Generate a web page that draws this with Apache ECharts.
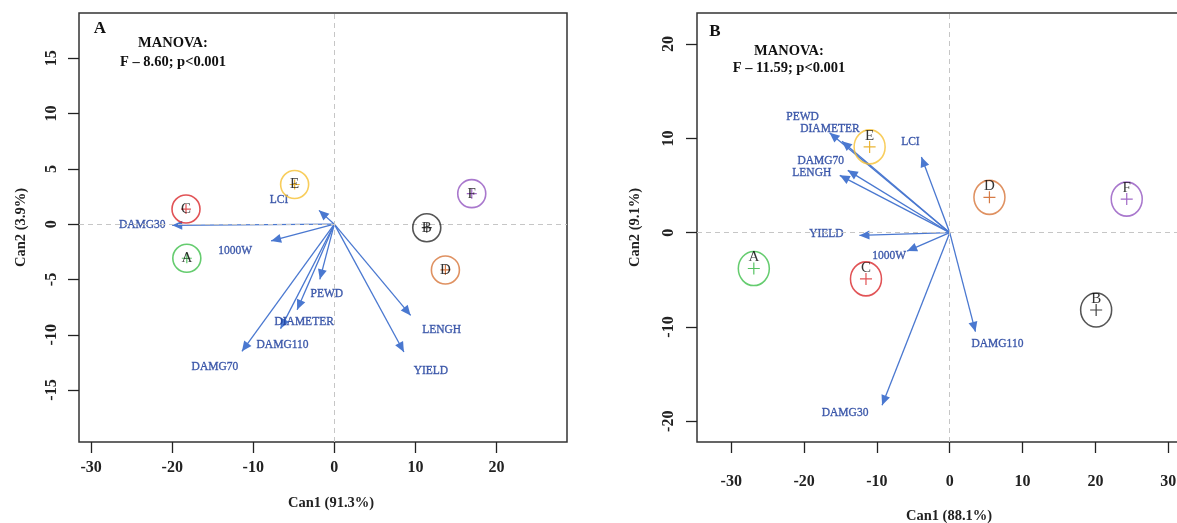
<!DOCTYPE html>
<html>
<head>
<meta charset="utf-8">
<script src="https://cdn.jsdelivr.net/npm/echarts@6/dist/echarts.min.js"></script>
<style>
  html, body { margin: 0; padding: 0; background: #fff; }
  #main { width: 1177px; height: 523px; }
</style>
</head>
<body>
<div id="main"></div>
<script>
// group centroids (Can1, Can2)
var groups = ['A', 'B', 'C', 'D', 'E', 'F'];
var centAX = [-18.2, 11.4, -18.3, 13.7, -4.9, 16.95];
var centAY = [-3.08, -0.32, 1.37, -4.14, 3.59, 2.76];
var centBX = [-26.9, 20.1, -11.5, 5.45, -11.0, 24.3];
var centBY = [-3.8, -8.2, -4.9, 3.75, 9.1, 3.56];

// variable structure coefficients (arrow ends)
var varsA = ['DAMG30', 'LCI', '1000W', 'PEWD', 'DIAMETER', 'DAMG110', 'DAMG70', 'LENGH', 'YIELD'];
var loadAX = [-20.0, -1.9, -7.8, -1.79, -4.59, -6.64, -11.4, 9.41, 8.58];
var loadAY = [-0.1, 1.25, -1.52, -4.99, -7.73, -9.45, -11.5, -8.25, -11.56];
var varsB = ['PEWD', 'DIAMETER', 'DAMG70', 'LENGH', 'LCI', 'YIELD', '1000W', 'DAMG110', 'DAMG30'];
var loadBX = [-16.5, -14.8, -14.0, -15.1, -3.89, -12.4, -5.85, 3.53, -9.29];
var loadBY = [10.6, 9.71, 6.61, 6.08, 8.02, -0.29, -1.95, -10.5, -18.3];

// tick labels
var ticksAX = [-30, -20, -10, 0, 10, 20];
var ticksAY = [-15, -10, -5, 0, 5, 10, 15];
var ticksBX = [-30, -20, -10, 0, 10, 20, 30];
var ticksBY = [-20, -10, 0, 10, 20];

// label placement next to arrow tips (px)
var labOffA = [[-30, 0], [-40, -10], [-36, 10], [7, 15], [7, 12], [2, 16], [-27, 16], [31, 15], [27, 19]];
var labOffB = [[-27, -16], [-12, -12], [-27, -9], [-28, -2], [-11, -15], [-33, -1], [-18, 5], [22, 12], [-37, 8]];

var circColors = ['#3fbf4b', '#2a2a2a', '#d9282c', '#d7763a', '#f6c033', '#9356c0'];
var plusColors = ['#2db43c', '#111111', '#d9282c', '#cc5a18', '#e5a100', '#8a44b8'];
var arrowC = '#4a78d0';
var labC = '#1d3d9c';
var serif = 'Liberation Serif';

// arrow head with its tip at the symbol centre
var arrowHead = 'path://M0,10L4.5,20L-4.5,20ZM-10,0M10,0';
var plusPath = 'path://M0,6L12,6M6,0L6,12';
var ellipsePath = 'path://M0,-1A1,1 0 1,1 0,1A1,1 0 1,1 0,-1Z';

var myChart = echarts.init(document.getElementById('main'));

function xAxis(idx, min, max, ticks, name, margin, gap) {
  return {
    gridIndex: idx, type: 'value', min: min, max: max,
    axisLine: {show: false, onZero: false},
    axisTick: {show: true, length: 11, customValues: ticks, lineStyle: {color: '#222', width: 1.3}},
    axisLabel: {customValues: ticks, margin: margin, color: '#222', fontFamily: serif, fontWeight: 'bold', fontSize: 16},
    splitLine: {show: false},
    name: name, nameLocation: 'middle', nameGap: gap,
    nameTextStyle: {color: '#222', fontFamily: serif, fontWeight: 'bold', fontSize: 14.5, padding: [0, 0, 0, 16]}
  };
}

function yAxis(idx, min, max, ticks, name, margin, gap) {
  return {
    gridIndex: idx, type: 'value', min: min, max: max,
    axisLine: {show: false, onZero: false},
    axisTick: {show: true, length: 11, customValues: ticks, lineStyle: {color: '#222', width: 1.3}},
    axisLabel: {customValues: ticks, rotate: 90, margin: margin, color: '#222', fontFamily: serif, fontWeight: 'bold', fontSize: 16},
    splitLine: {show: false},
    name: name, nameLocation: 'middle', nameGap: gap,
    nameTextStyle: {color: '#222', fontFamily: serif, fontWeight: 'bold', fontSize: 14.5}
  };
}

function panelSeries(idx, cx, cy, vars, lx, ly, offs, circle, circSize, plusSize, letterOff) {
  return [
    {
      type: 'scatter', xAxisIndex: idx, yAxisIndex: idx, z: 1, silent: true,
      symbol: plusPath, symbolSize: plusSize,
      data: groups.map(function (g, i) {
        return {value: [cx[i], cy[i]], itemStyle: {borderColor: plusColors[i]}};
      }),
      itemStyle: {color: 'rgba(0,0,0,0)', borderWidth: 1.2},
      markLine: {
        silent: true, symbol: ['none', 'none'], animation: false,
        label: {show: false},
        lineStyle: {color: '#c6c6c6', type: [5, 4], width: 1},
        data: [{xAxis: 0}, {yAxis: 0}]
      }
    },
    {
      type: 'lines', coordinateSystem: 'cartesian2d', xAxisIndex: idx, yAxisIndex: idx, z: 3,
      symbol: ['none', arrowHead], symbolSize: 20,
      lineStyle: {color: arrowC, width: 1.3, opacity: 1},
      data: vars.map(function (v, i) {
        return {coords: [[0, 0], [lx[i], ly[i]]]};
      })
    },
    {
      type: 'scatter', xAxisIndex: idx, yAxisIndex: idx, z: 4, silent: true,
      symbolSize: 1, itemStyle: {color: 'rgba(0,0,0,0)'},
      label: {
        show: true, position: 'inside', formatter: '{b}', color: labC, fontFamily: serif, fontSize: 11.5,
        textBorderColor: labC, textBorderWidth: 0.35
      },
      data: vars.map(function (v, i) {
        return {name: v, value: [lx[i], ly[i]], label: {offset: offs[i]}};
      })
    },
    {
      type: 'scatter', xAxisIndex: idx, yAxisIndex: idx, z: 5, silent: true,
      symbol: circle, symbolSize: circSize,
      itemStyle: {color: 'rgba(0,0,0,0)', borderWidth: 1.6},
      label: {show: true, position: 'inside', offset: letterOff, formatter: '{b}', color: '#000', fontFamily: serif, fontSize: 15},
      data: groups.map(function (g, i) {
        return {name: g, value: [cx[i], cy[i]], itemStyle: {borderColor: circColors[i]}};
      })
    }
  ];
}

var gridStyle = {show: true, borderColor: '#333', borderWidth: 1.5, backgroundColor: 'rgba(0,0,0,0)', outerBoundsMode: 'none', containLabel: false};

var option = {
  animation: false,
  backgroundColor: '#fff',
  grid: [
    Object.assign({left: 79, top: 13, width: 488, height: 429}, gridStyle),
    Object.assign({left: 697, top: 13, width: 488, height: 429}, gridStyle)
  ],
  xAxis: [
    xAxis(0, -31.5, 28.7, ticksAX, 'Can1 (91.3%)', 18, 54),
    xAxis(1, -34.7, 32.3, ticksBX, 'Can1 (88.1%)', 32, 67)
  ],
  yAxis: [
    yAxis(0, -19.7, 19.1, ticksAY, 'Can2 (3.9%)', 19, 50),
    yAxis(1, -22.2, 23.3, ticksBY, 'Can2 (9.1%)', 20, 54)
  ],
  graphic: [
    {type: 'text', x: 100, y: 29, style: {text: 'A', fill: '#111', font: 'bold 17px "Liberation Serif"', align: 'center', verticalAlign: 'middle'}},
    {type: 'text', x: 173, y: 43, style: {text: 'MANOVA:', fill: '#111', font: 'bold 14.5px "Liberation Serif"', align: 'center', verticalAlign: 'middle'}},
    {type: 'text', x: 173, y: 62, style: {text: 'F – 8.60; p<0.001', fill: '#111', font: 'bold 14.5px "Liberation Serif"', align: 'center', verticalAlign: 'middle'}},
    {type: 'text', x: 715, y: 32, style: {text: 'B', fill: '#111', font: 'bold 17px "Liberation Serif"', align: 'center', verticalAlign: 'middle'}},
    {type: 'text', x: 789, y: 51, style: {text: 'MANOVA:', fill: '#111', font: 'bold 14.5px "Liberation Serif"', align: 'center', verticalAlign: 'middle'}},
    {type: 'text', x: 789, y: 68, style: {text: 'F – 11.59; p<0.001', fill: '#111', font: 'bold 14.5px "Liberation Serif"', align: 'center', verticalAlign: 'middle'}}
  ],
  series: []
    .concat(panelSeries(0, centAX, centAY, varsA, loadAX, loadAY, labOffA, 'circle', 28, 10, [0, 0]))
    .concat(panelSeries(1, centBX, centBY, varsB, loadBX, loadBY, labOffB, ellipsePath, [31, 34], 12, [0, -11]))
};

myChart.setOption(option);
window.onresize = function () {
  myChart.resize();
};
</script>
</body>
</html>
